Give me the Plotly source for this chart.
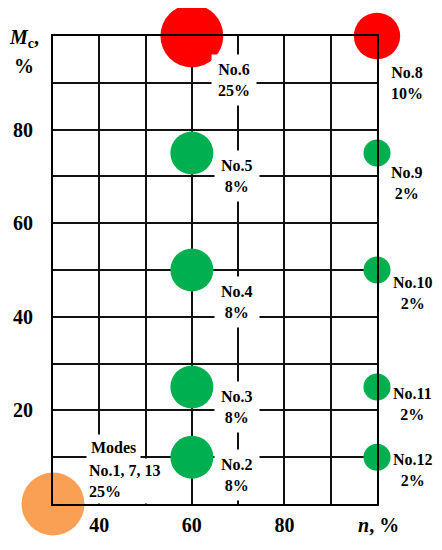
import plotly.graph_objects as go

# modes: n (%), Mc (%), share of time (%)
mode_names = ["No.1, 7, 13", "No.2", "No.3", "No.4", "No.5", "No.6",
              "No.8", "No.9", "No.10", "No.11", "No.12"]
n_vals = [30, 60, 60, 60, 60, 60, 100, 100, 100, 100, 100]
mc_vals = [0, 10, 25, 50, 75, 100, 100, 75, 50, 25, 10]
shares = [25, 8, 8, 8, 8, 25, 10, 2, 2, 2, 2]
groups = ["orange", "green", "green", "green", "green", "red",
          "red", "green", "green", "green", "green"]

x_ticks = [30, 40, 50, 60, 70, 80, 90, 100]
x_tick_labels = ["", "40", "", "60", "", "80", "", ""]
y_ticks = [0, 10, 20, 30, 40, 50, 60, 70, 80, 90, 100]
y_tick_labels = ["", "", "20", "", "40", "", "60", "", "80", "", ""]

palette = {"orange": "#F9A054", "green": "#00B050", "red": "#FF0000"}
FONT = "Liberation Serif, Times New Roman, serif"

sizes = [21.5 * s ** (1 / 3) for s in shares]
colors = [palette[g] for g in groups]

fig = go.Figure()
fig.add_trace(go.Scatter(
    x=n_vals, y=mc_vals, mode="markers", cliponaxis=False,
    marker=dict(size=sizes, color=colors, opacity=1, line=dict(width=0)),
    hoverinfo="skip", showlegend=False))

# label offsets in pixels (xshift, yshift)
offsets = [None, (45, -18), (45, -20), (45, -32), (45, -23), (42, -44),
           (30, -47), (30, -30), (36, -23), (35, -17), (36, -13)]

for name, x, y, s, off in zip(mode_names, n_vals, mc_vals, shares, offsets):
    if off is None:
        fig.add_annotation(x=x, y=y, xref="x", yref="y", text="<b>Modes</b>",
                           showarrow=False, xanchor="left", xshift=33, yshift=57,
                           bgcolor="white", borderpad=4,
                           font=dict(family=FONT, size=16, color="black"))
        fig.add_annotation(x=x, y=y, xref="x", yref="y",
                           text="<b>%s</b><br><b>%d%%</b>" % (name, s),
                           showarrow=False, xanchor="left", align="left",
                           xshift=32, yshift=23, bgcolor="white", borderpad=3,
                           font=dict(family=FONT, size=16, color="black"))
        continue
    fig.add_annotation(x=x, y=y, xref="x", yref="y",
                       text="<b>%s</b><br><b>%d%%</b>" % (name, s),
                       showarrow=False, xshift=off[0], yshift=off[1],
                       bgcolor="white" if x < 100 else "rgba(0,0,0,0)", borderpad=6,
                       font=dict(family=FONT, size=16, color="black"))

# axis titles
fig.add_annotation(
    x=-0.09, y=1.0, xref="paper", yref="paper", xanchor="center", yanchor="middle",
    text="<b><i>M</i></b><sub><b>c</b></sub><b>,</b>", showarrow=False,
    font=dict(family=FONT, size=20, color="black"), yshift=-2)
fig.add_annotation(
    x=-0.09, y=1.0, xref="paper", yref="paper", xanchor="center", yanchor="middle",
    text="<b>%</b>", showarrow=False,
    font=dict(family=FONT, size=20, color="black"), yshift=-30)
fig.add_annotation(
    x=1.0, y=0, xref="paper", yref="paper", xanchor="center", yanchor="middle",
    text="<b><i>n</i>, %</b>", showarrow=False,
    font=dict(family=FONT, size=20, color="black"), xshift=1, yshift=-21)

axis_common = dict(showline=True, linecolor="black", linewidth=2, mirror=True,
                   showgrid=True, gridcolor="#111111", gridwidth=1.5,
                   zeroline=False, ticks="", tickmode="array", automargin=False,
                   tickfont=dict(family=FONT, size=20, color="black", weight="bold"))

fig.update_xaxes(range=[30, 100], tickvals=x_ticks, ticktext=x_tick_labels,
                 ticklabelstandoff=2, **axis_common)
fig.update_yaxes(range=[0, 100], tickvals=y_ticks, ticktext=y_tick_labels,
                 ticklabelstandoff=14, **axis_common)

# the page body has an 8px margin, so the figure sits 8px in from the corner
fig.update_layout(
    width=434, height=534,
    margin=dict(l=45, r=65, t=28, b=38),
    plot_bgcolor="white", paper_bgcolor="white",
    font=dict(family=FONT, color="black"),
)

fig.write_html("out.html")
